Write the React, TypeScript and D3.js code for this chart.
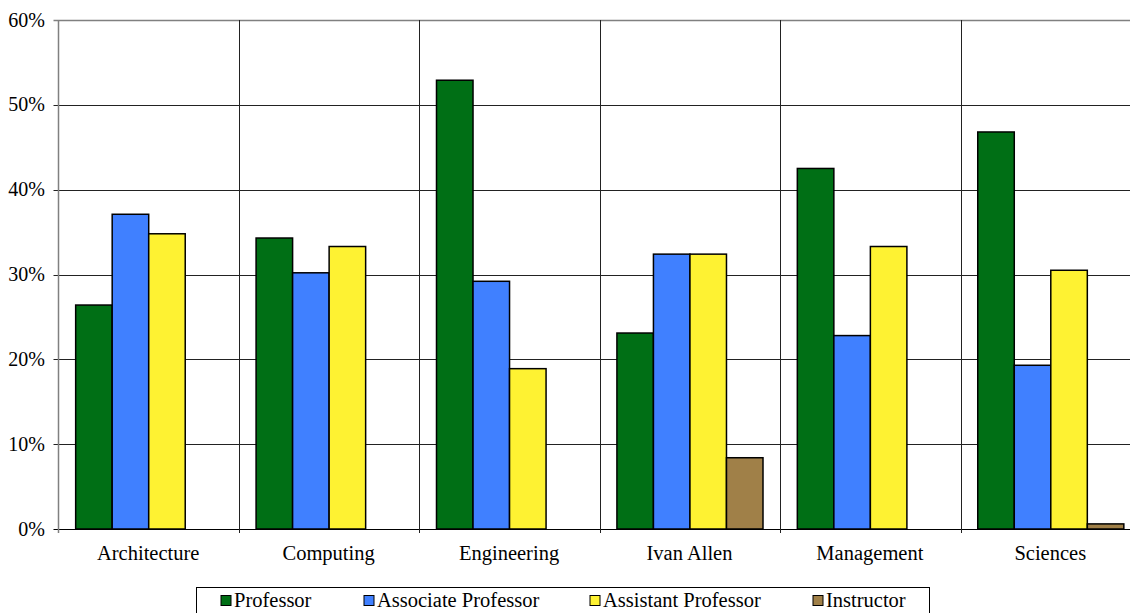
import React from "react";
import * as d3 from "d3";

const categories = ["Architecture", "Computing", "Engineering", "Ivan Allen", "Management", "Sciences"];
const seriesNames = ["Professor", "Associate Professor", "Assistant Professor", "Instructor"];
const professor = [26.4, 34.3, 52.9, 23.1, 42.5, 46.8];
const associate = [37.1, 30.2, 29.2, 32.4, 22.8, 19.3];
const assistant = [34.8, 33.3, 18.9, 32.4, 33.3, 30.5];
const instructor = [0, 0, 0, 8.4, 0, 0.6];
const yTicks = [0, 10, 20, 30, 40, 50, 60];
const colors = ["#006f15", "#4080ff", "#fef232", "#a08048"];

const seriesValues = [professor, associate, assistant, instructor];

export default function App() {
  const W = 1130, H = 613;
  const left = 58.5, right = 1141, top = 20, bottom = 529;
  const x0 = d3.scaleBand<string>().domain(categories).range([left, right]).paddingInner(0).paddingOuter(0);
  const x1 = d3.scaleBand<string>().domain(seriesNames).range([0, x0.bandwidth()]).paddingInner(0).paddingOuter(0.47);
  const y = d3.scaleLinear().domain([0, 60]).range([bottom, top]);
  const font = "\"Liberation Serif\", Tinos, \"Times New Roman\", Times, \"DejaVu Serif\", serif";
  const ts = { fontFamily: font };

  const legendX = [221, 364, 590, 813];

  return (
    <svg width={W} height={H} style={{ position: "absolute", left: 0, top: 0, display: "block", fontFamily: font }}>
      <rect x={0} y={0} width={W} height={H} fill="#fff" />
      {yTicks.map((t) => (
        <g key={t}>
          <line x1={left - 5} x2={right} y1={Math.round(y(t)) + 0.5} y2={Math.round(y(t)) + 0.5}
            stroke={t === 60 ? "#808080" : t === 0 ? "#000" : "#222"} strokeWidth={t === 60 ? 1.5 : 1} />
          <text x={45} y={y(t) + 6.5} textAnchor="end" fontSize={20} fill="#000" style={ts}>{t}%</text>
        </g>
      ))}
      {categories.map((c, i) => i > 0 && (
        <line key={c} x1={Math.round(x0(c)!) + 0.5} x2={Math.round(x0(c)!) + 0.5} y1={top} y2={bottom + 4}
          stroke="#222" strokeWidth={1} />
      ))}
      <line x1={left} x2={left} y1={top} y2={bottom + 4} stroke="#808080" strokeWidth={1.5} />
      {seriesValues.map((vals, si) =>
        vals.map((v, ci) => v > 0 && (
          <rect key={`${si}-${ci}`}
            x={x0(categories[ci])! + x1(seriesNames[si])!}
            y={y(v)}
            width={x1.bandwidth()}
            height={bottom - y(v)}
            fill={colors[si]} stroke="#000" strokeWidth={1.5} />
        ))
      )}
      {categories.map((c) => (
        <text key={c} x={x0(c)! + x0.bandwidth() / 2 - 0.5} y={560} textAnchor="middle" fontSize={20.5} fill="#000" style={ts}>{c}</text>
      ))}
      <rect x={196.5} y={587.5} width={733} height={40} fill="#fff" stroke="#000" strokeWidth={1} />
      {seriesNames.map((s, i) => (
        <g key={s}>
          <rect x={legendX[i]} y={595.5} width={10} height={10} fill={colors[i]} stroke="#000" strokeWidth={1} />
          <text x={legendX[i] + 13} y={607} fontSize={20.5} fill="#000" style={ts}>{s}</text>
        </g>
      ))}
    </svg>
  );
}
